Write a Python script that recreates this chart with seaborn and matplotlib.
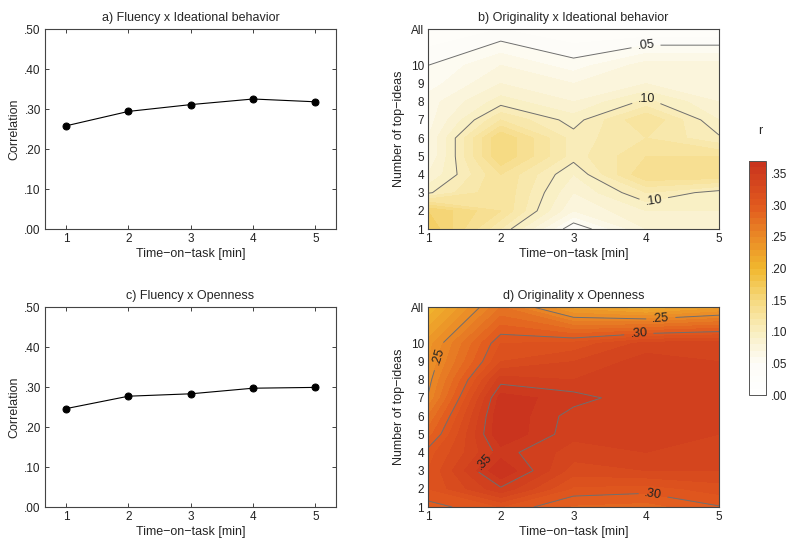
import numpy as np
import pandas as pd
import matplotlib
matplotlib.use("Agg")
import matplotlib.pyplot as plt
import seaborn as sns
from matplotlib.colors import LinearSegmentedColormap
from matplotlib.ticker import FuncFormatter

# ---------------- data ----------------
time_min = [1, 2, 3, 4, 5]
fluency_ideational = [0.258, 0.294, 0.311, 0.325, 0.318]
fluency_openness = [0.246, 0.277, 0.283, 0.297, 0.299]

top_ideas = [1, 2, 3, 4, 5, 6, 7, 8, 9, 10, 12]
top_idea_labels = ["1", "2", "3", "4", "5", "6", "7", "8", "9", "10", "All"]

# rows: top ideas (1..10, All); columns: time 1..5
orig_ideational = [
    [0.170, 0.110, 0.040, 0.080, 0.080],
    [0.160, 0.130, 0.070, 0.090, 0.090],
    [0.098, 0.130, 0.080, 0.110, 0.095],
    [0.080, 0.130, 0.090, 0.140, 0.140],
    [0.070, 0.150, 0.105, 0.130, 0.130],
    [0.070, 0.150, 0.105, 0.120, 0.102],
    [0.065, 0.120, 0.095, 0.130, 0.090],
    [0.065, 0.095, 0.080, 0.103, 0.080],
    [0.055, 0.080, 0.070, 0.080, 0.080],
    [0.050, 0.070, 0.055, 0.075, 0.075],
    [0.030, 0.040, 0.030, 0.030, 0.030],
]
orig_openness = [
    [0.295, 0.310, 0.288, 0.285, 0.299],
    [0.310, 0.348, 0.308, 0.305, 0.315],
    [0.310, 0.370, 0.325, 0.330, 0.330],
    [0.305, 0.355, 0.335, 0.340, 0.335],
    [0.285, 0.370, 0.343, 0.345, 0.340],
    [0.270, 0.370, 0.345, 0.345, 0.340],
    [0.251, 0.365, 0.355, 0.342, 0.340],
    [0.245, 0.345, 0.340, 0.345, 0.340],
    [0.240, 0.320, 0.330, 0.345, 0.340],
    [0.235, 0.310, 0.313, 0.334, 0.336],
    [0.200, 0.270, 0.225, 0.209, 0.225],
]

# ---------------- style ----------------
sns.set_theme(style="ticks")
plt.rcParams["font.family"] = ["Liberation Sans", "DejaVu Sans"]
plt.rcParams["axes.edgecolor"] = "#444444"
plt.rcParams["axes.linewidth"] = 0.8
FS = 8.5

cmap = LinearSegmentedColormap.from_list(
    "r", [
        (0.00, "#ffffff"),
        (0.05 / 0.37, "#fdfcf7"),
        (0.10 / 0.37, "#f9eebf"),
        (0.15 / 0.37, "#f6d97e"),
        (0.20 / 0.37, "#f1b72e"),
        (0.25 / 0.37, "#ea8a26"),
        (0.30 / 0.37, "#e1591e"),
        (1.00, "#c8321e"),
    ])
levels = np.linspace(0, 0.37, 38)

fig = plt.figure(figsize=(8.0, 5.46), dpi=100)
W, H = 800, 546


def add_ax(l, t, r, b):
    return fig.add_axes([l / W, 1 - b / H, (r - l) / W, (b - t) / H])


dot_fmt = FuncFormatter(lambda v, p: f"{v:.2f}"[1:] if v >= 0 else f"{v:.2f}")
xlabel = "Time\u2212on\u2212task [min]"


def style_ticks(ax):
    ax.tick_params(direction="in", top=True, right=True, length=3, width=0.6,
                   labelsize=FS, colors="#222222", pad=3)
    for s in ax.spines.values():
        s.set_color("#444444")


def line_panel(ax, vals, title):
    df = pd.DataFrame({"t": time_min, "r": vals})
    sns.lineplot(data=df, x="t", y="r", ax=ax, color="black", linewidth=0.8,
                 marker="o", markersize=5, markeredgecolor="black")
    ax.set_xlim(0.66, 5.33)
    ax.set_ylim(0, 0.5)
    ax.set_xticks(time_min)
    ax.set_yticks([0, 0.1, 0.2, 0.3, 0.4, 0.5])
    ax.yaxis.set_major_formatter(dot_fmt)
    ax.set_xlabel(xlabel, fontsize=FS + 0.5, labelpad=2)
    ax.set_ylabel("Correlation", fontsize=FS + 0.5, labelpad=3)
    ax.set_title(title, fontsize=FS + 0.5, pad=6)
    style_ticks(ax)


def contour_panel(ax, Z, title, line_levels, manual):
    Z = np.array(Z)
    X, Y = np.meshgrid(time_min, top_ideas)
    cf = ax.contourf(X, Y, Z, levels=levels, cmap=cmap, vmin=0, vmax=0.37)
    cs = ax.contour(X, Y, Z, levels=line_levels, colors="#6f6f6f", linewidths=0.7)
    ax.clabel(cs, fmt=lambda v: f"{v:.2f}"[1:], fontsize=FS + 0.5,
              inline=True, inline_spacing=6, manual=manual, colors="#222222")
    ax.set_xlim(1, 5)
    ax.set_ylim(1, 12)
    ax.set_xticks(time_min)
    ax.set_yticks(top_ideas)
    ax.set_yticklabels(top_idea_labels)
    ax.set_xlabel(xlabel, fontsize=FS + 0.5, labelpad=2)
    ax.set_ylabel("Number of top\u2212ideas", fontsize=FS + 0.5, labelpad=4)
    ax.set_title(title, fontsize=FS + 0.5, pad=6)
    style_ticks(ax)
    ax.tick_params(length=0)
    return cf


ax_a = add_ax(45, 29, 336, 229)
line_panel(ax_a, fluency_ideational, "a) Fluency x Ideational behavior")
ax_c = add_ax(45, 307, 336, 507)
line_panel(ax_c, fluency_openness, "c) Fluency x Openness")

ax_b = add_ax(428, 29, 719, 229)
cf = contour_panel(ax_b, orig_ideational, "b) Originality x Ideational behavior",
                   [0.05, 0.10], [(4.0, 11.0), (4.0, 8.1), (4.1, 2.6)])
ax_d = add_ax(428, 307, 719, 507)
contour_panel(ax_d, orig_openness, "d) Originality x Openness",
              [0.25, 0.30, 0.35],
              [(1.14, 9.3), (4.2, 11.4), (3.9, 10.4), (4.1, 1.8), (1.75, 3.6)])

cax = add_ax(749, 161, 766, 395)
cb = fig.colorbar(cf, cax=cax)
cb.set_ticks([0, 0.05, 0.10, 0.15, 0.20, 0.25, 0.30, 0.35])
cb.ax.yaxis.set_major_formatter(dot_fmt)
cb.ax.tick_params(direction="in", length=3, width=0.6, labelsize=FS, colors="#222222")
cb.outline.set_edgecolor("#555555")
cb.outline.set_linewidth(0.7)
fig.text(760 / W, 1 - 131 / H, "r", fontsize=FS + 0.5, ha="center", va="center")

fig.savefig("out.png", dpi=100)
